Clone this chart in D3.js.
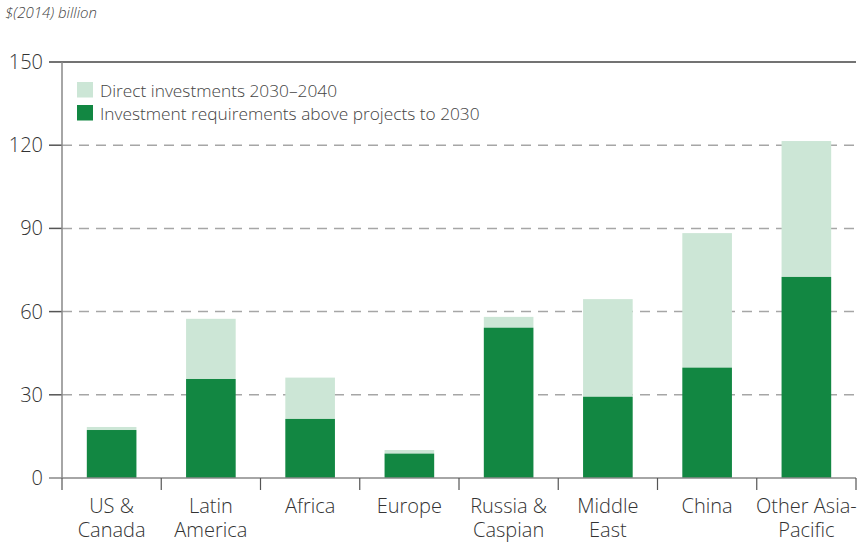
<!DOCTYPE html>
<html><head><meta charset="utf-8">
<script src="https://cdn.jsdelivr.net/npm/d3@7"></script>
<style>
html,body{margin:0;padding:0;background:#fff;}
text{font-family:"Open Sans","Liberation Sans",Arial,sans-serif;font-weight:300;}
</style></head>
<body><svg id="c" width="858" height="542"></svg>
<script>
const categories = [["US &","Canada"],["Latin","America"],["Africa"],["Europe"],["Russia &","Caspian"],["Middle","East"],["China"],["Other Asia-","Pacific"]];
const above2030 = [17.3, 35.7, 21.3, 8.8, 54.2, 29.3, 39.8, 72.5];
const direct2040 = [1.1, 21.7, 14.9, 1.3, 3.9, 35.2, 48.5, 49.0];
const yTicks = [0, 30, 60, 90, 120, 150];
const seriesNames = ["Direct investments 2030\u20132040", "Investment requirements above projects to 2030"];
const colors = ["#cce6d6", "#128742"];

const svg = d3.select("#c");
const pLeft = 62, pRight = 856, pTop = 62, pBottom = 478;
const x = d3.scaleBand().domain(d3.range(categories.length)).range([pLeft, pRight]).paddingInner(0.5).paddingOuter(0.25);
const y = d3.scaleLinear().domain([0, 150]).range([pBottom, pTop]);

svg.append("text").attr("x", 5).attr("y", 18).attr("font-size", 15).attr("font-style", "italic").attr("fill", "#444").text("$(2014) billion");

// gridlines
yTicks.forEach(t => {
  const yy = y(t);
  if (t === 150) {
    svg.append("line").attr("x1", 49).attr("x2", pRight).attr("y1", yy).attr("y2", yy).attr("stroke", "#444").attr("stroke-width", 1.5);
  } else if (t > 0) {
    svg.append("line").attr("x1", pLeft).attr("x2", pRight).attr("y1", yy).attr("y2", yy).attr("stroke", "#a6a6a6").attr("stroke-width", 1.5).attr("stroke-dasharray", "10,7");
    svg.append("line").attr("x1", 49).attr("x2", pLeft).attr("y1", yy).attr("y2", yy).attr("stroke", "#555").attr("stroke-width", 1.5);
  }
  svg.append("text").attr("x", 43).attr("y", yy + 7).attr("text-anchor", "end").attr("font-size", 20).attr("fill", "#333").text(t);
});

// bars
const g = svg.append("g");
categories.forEach((c, i) => {
  g.append("rect").attr("x", x(i)).attr("width", x.bandwidth()).attr("y", y(above2030[i] + direct2040[i])).attr("height", y(above2030[i]) - y(above2030[i] + direct2040[i])).attr("fill", colors[0]);
  g.append("rect").attr("x", x(i)).attr("width", x.bandwidth()).attr("y", y(above2030[i])).attr("height", y(0) - y(above2030[i])).attr("fill", colors[1]);
});

// axes
svg.append("line").attr("x1", pLeft).attr("x2", pLeft).attr("y1", pTop).attr("y2", pBottom).attr("stroke", "#888").attr("stroke-width", 1.5);
svg.append("line").attr("x1", 49).attr("x2", pRight).attr("y1", pBottom).attr("y2", pBottom).attr("stroke", "#888").attr("stroke-width", 1.5);
const step = x.step();
for (let i = 0; i <= categories.length; i++) {
  const xx = pLeft + i * step;
  svg.append("line").attr("x1", xx).attr("x2", xx).attr("y1", pBottom).attr("y2", 490).attr("stroke", "#555").attr("stroke-width", 1.2);
}
categories.forEach((c, i) => {
  const t = svg.append("text").attr("x", x(i) + x.bandwidth() / 2).attr("y", 513).attr("text-anchor", "middle").attr("font-size", 20).attr("fill", "#333");
  c.forEach((line, k) => t.append("tspan").attr("x", x(i) + x.bandwidth() / 2).attr("dy", k === 0 ? 0 : 24).text(line));
});

// legend
seriesNames.forEach((n, k) => {
  const yy = 82 + k * 23;
  svg.append("rect").attr("x", 77).attr("y", yy).attr("width", 16).attr("height", 15.5).attr("fill", colors[k]);
  svg.append("text").attr("x", 100).attr("y", yy + 14.5).attr("font-size", 17.3).attr("fill", "#444").text(n);
});
</script></body></html>
